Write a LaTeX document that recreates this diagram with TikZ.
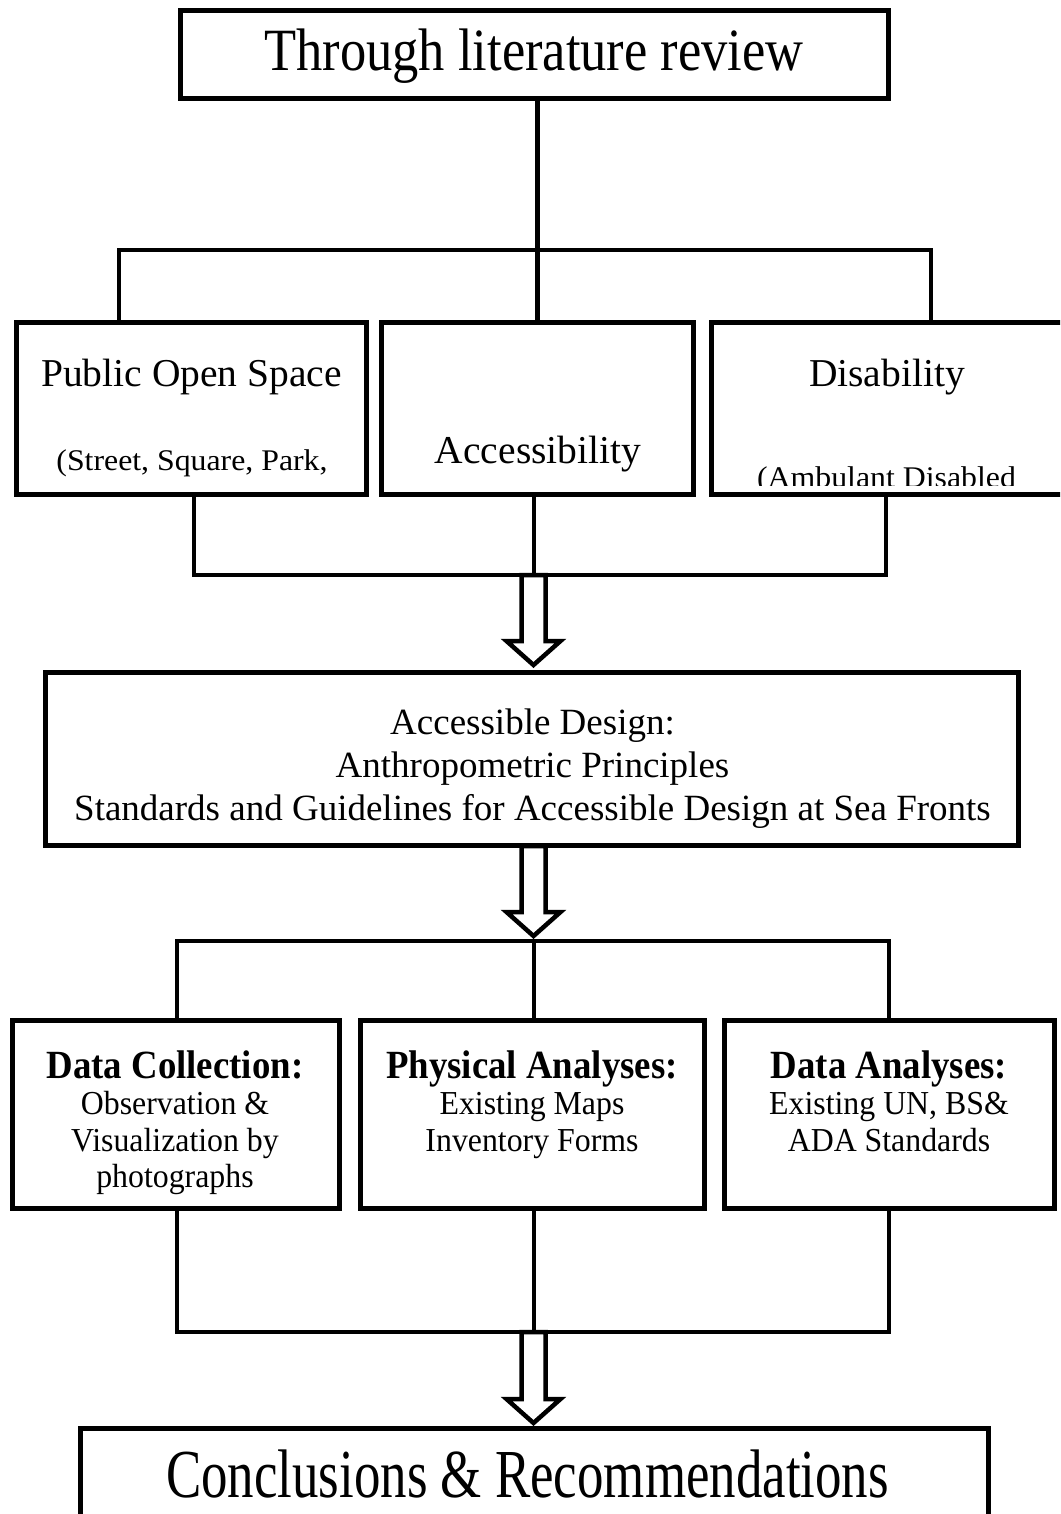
\documentclass[tikz,border=0pt]{standalone}
\usepackage{fontspec}
\setmainfont{Liberation Serif}
\newfontfamily\fTitle[FakeStretch=0.875]{Liberation Serif}
\newfontfamily\fEnd[FakeStretch=0.77]{Liberation Serif}
\newfontfamily\fSub[FakeStretch=1.06]{Liberation Serif}
\newfontfamily\fHead[FakeStretch=0.92]{Liberation Serif}
\newfontfamily\fBody[FakeStretch=0.95]{Liberation Serif}
\usetikzlibrary{calc}

\begin{document}
\begin{tikzpicture}[x=1pt,y=-1pt,
  box/.style={draw, line width=5pt, fill=white, inner sep=0pt, outer sep=0pt},
  wire/.style={line width=4.5pt, line join=miter},
  blockarrow/.style={draw, fill=white, line width=4.5pt, line join=miter},
  txt/.style={anchor=base, inner sep=0pt, outer sep=0pt},
  bigfont/.style={font=\fTitle\fontsize{60}{60}\selectfont},
  endfont/.style={font=\fEnd\fontsize{68.7}{70}\selectfont},
  rowfont/.style={font=\fontsize{39.5}{44}\selectfont},
  subfont/.style={font=\fSub\fontsize{30}{34}\selectfont},
  midfont/.style={font=\fontsize{37}{43}\selectfont},
  headfont/.style={font=\fHead\bfseries\fontsize{40}{44}\selectfont},
  bodyfont/.style={font=\fBody\fontsize{33.5}{37}\selectfont}
]
\clip (0,0) rectangle (1060,1514);
\fill[white] (0,0) rectangle (1060,1514);

% ---- boxes ----
\node[box, minimum width=708pt, minimum height=88pt] (top) at (534.5,54.5) {};

\node[box, minimum width=350pt, minimum height=172pt] (r1a) at (191.5,408.5) {};
\node[box, minimum width=312pt, minimum height=172pt] (r1b) at (537.5,408.5) {};
\node[box, minimum width=363.5pt, minimum height=172pt] (r1c) at (893.25,408.5) {};

\node[box, minimum width=973pt, minimum height=173pt] (mid) at (532,759) {};

\node[box, minimum width=327pt, minimum height=188pt] (r2a) at (176,1114.5) {};
\node[box, minimum width=344pt, minimum height=188pt] (r2b) at (532.5,1114.5) {};
\node[box, minimum width=330pt, minimum height=188pt] (r2c) at (889.5,1114.5) {};

\node[box, minimum width=908pt, minimum height=171.5pt] (fin) at (534.5,1514.25) {};

% ---- texts ----
\node[txt, bigfont] (tTop) at (534,71) {Through literature review};

\node[txt, rowfont] (tPos) at (191.5,386) {Public Open Space};
\node[txt, subfont] (tPosSub) at (192,470) {(Street, Square, Park,};
\node[txt, rowfont] (tAcc) at (538,463) {Accessibility};
\node[txt, rowfont] (tDis) at (887,386) {Disability};
\begin{scope}
  \clip (712,400) rectangle (1060,485);
  \node[txt, subfont] (tDisSub) at (886.5,487) {(Ambulant Disabled};
\end{scope}

\node[txt, midfont] (tMid1) at (532.5,734) {Accessible Design:};
\node[txt, midfont] (tMid2) at (532.5,777) {Anthropometric Principles};
\node[txt, midfont] (tMid3) at (532.5,820) {Standards and Guidelines for Accessible Design at Sea Fronts};

\node[txt, headfont] (tA0) at (175,1078) {Data Collection:};
\node[txt, bodyfont] (tA1) at (175,1114) {Observation \&};
\node[txt, bodyfont] (tA2) at (175,1151) {Visualization by};
\node[txt, bodyfont] (tA3) at (175,1187) {photographs};

\node[txt, headfont] (tB0) at (532,1078) {Physical Analyses:};
\node[txt, bodyfont] (tB1) at (532,1114) {Existing Maps};
\node[txt, bodyfont] (tB2) at (532,1151) {Inventory Forms};

\node[txt, headfont] (tC0) at (889,1078) {Data Analyses:};
\node[txt, bodyfont] (tC1) at (889,1114) {Existing UN, BS\&};
\node[txt, bodyfont] (tC2) at (889,1151) {ADA Standards};

\node[txt, endfont] (tFin) at (527.5,1497) {Conclusions \& Recommendations};

% ---- junction points of the connector bars ----
\coordinate (s1L) at (119,250);  \coordinate (s1R) at (931,250);
\coordinate (s2L) at (194,575);  \coordinate (s2R) at (886,575);  \coordinate (s2M) at (534,575);
\coordinate (s3L) at (177,941);  \coordinate (s3R) at (889,941);  \coordinate (s3M) at (534,941);
\coordinate (s4L) at (177,1332); \coordinate (s4R) at (889,1332); \coordinate (s4M) at (534,1332);

% ---- connectors ----
\draw[wire] (top.south -| r1b.north) -- (r1b.north);
\draw[wire] (r1a.north -| s1L) -- (s1L) -- (s1R) -- (r1c.north -| s1R);

\draw[wire] (r1a.south -| s2L) -- (s2L) -- (s2R) -- (r1c.south -| s2R);
\draw[wire] (r1b.south -| s2M) -- (s2M);

\draw[wire] (r2a.north -| s3L) -- (s3L) -- (s3R) -- (r2c.north -| s3R);
\draw[wire] (s3M) -- (r2b.north -| s3M);

\draw[wire] (r2a.south -| s4L) -- (s4L) -- (s4R) -- (r2c.south -| s4R);
\draw[wire] (r2b.south -| s4M) -- (s4M);

% ---- hollow block arrows ----
\coordinate (a1s) at (533.5,575);  \coordinate (a1e) at (533.5,665);
\coordinate (a2s) at (533.5,846);  \coordinate (a2e) at (533.5,936);
\coordinate (a3s) at (533.5,1332); \coordinate (a3e) at (533.5,1423);

\foreach \s/\e in {a1s/a1e, a2s/a2e, a3s/a3e}{
  \draw[blockarrow]
    ($(\s)+(-12,0)$) -- ($(\e)+(-12,-24)$) -- ($(\e)+(-27,-24)$) --
    (\e) -- ($(\e)+(27,-24)$) -- ($(\e)+(12,-24)$) -- ($(\s)+(12,0)$) -- cycle;
}
\end{tikzpicture}
\end{document}
